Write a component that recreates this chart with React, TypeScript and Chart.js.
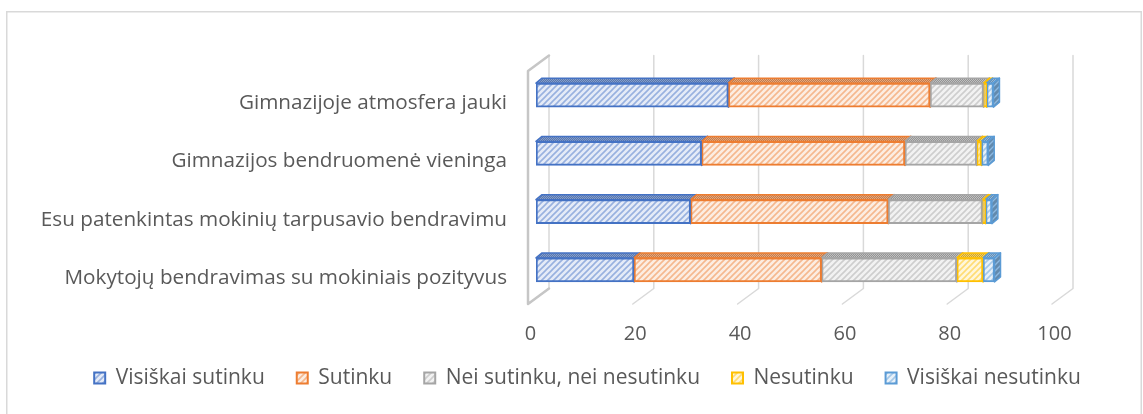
import React, { useEffect, useRef } from 'react';
import { Chart, registerables } from 'chart.js';

Chart.register(...registerables);

const categories = [
  'Gimnazijoje atmosfera jauki',
  'Gimnazijos bendruomenė vieninga',
  'Esu patenkintas mokinių tarpusavio bendravimu',
  'Mokytojų bendravimas su mokiniais pozityvus',
];
const seriesNames = [
  'Visiškai sutinku',
  'Sutinku',
  'Nei sutinku, nei nesutinku',
  'Nesutinku',
  'Visiškai nesutinku',
];
const visiskaiSutinku = [36.7, 31.6, 29.5, 18.7];
const sutinku = [38.5, 38.8, 37.7, 35.8];
const neiSutinkuNeiNesutinku = [10.2, 13.7, 18.0, 25.8];
const nesutinku = [0.6, 0.9, 0.6, 5.0];
const visiskaiNesutinku = [1.3, 1.3, 1.2, 2.2];
const xTicks = [0, 20, 40, 60, 80, 100];
const seriesColors = ['#4472C4', '#ED7D31', '#A5A5A5', '#FFC000', '#5B9BD5'];

const FONT = '"Open Sans", "DejaVu Sans", sans-serif';
const TEXT = '#595959';

function hexToRgb(h: string) {
  const n = parseInt(h.slice(1), 16);
  return [(n >> 16) & 255, (n >> 8) & 255, n & 255];
}
function mix(a: string, b: string, t: number) {
  const A = hexToRgb(a);
  const B = hexToRgb(b);
  const r = A.map((v, i) => Math.round(v + (B[i] - v) * t));
  return `rgb(${r[0]},${r[1]},${r[2]})`;
}

function hatch(ctx: CanvasRenderingContext2D, bg: string, fg: string, lw: number) {
  const s = 6;
  const cv = document.createElement('canvas');
  cv.width = s;
  cv.height = s;
  const g = cv.getContext('2d')!;
  g.fillStyle = bg;
  g.fillRect(0, 0, s, s);
  g.strokeStyle = fg;
  g.lineWidth = lw;
  g.beginPath();
  g.moveTo(-1, s + 1);
  g.lineTo(s + 1, -1);
  g.moveTo(-2, 2);
  g.lineTo(2, -2);
  g.moveTo(s - 2, s + 2);
  g.lineTo(s + 2, s - 2);
  g.stroke();
  return ctx.createPattern(cv, 'repeat')!;
}
function dots(ctx: CanvasRenderingContext2D, a: string, b: string) {
  const cv = document.createElement('canvas');
  cv.width = 2;
  cv.height = 2;
  const g = cv.getContext('2d')!;
  g.fillStyle = a;
  g.fillRect(0, 0, 2, 2);
  g.fillStyle = b;
  g.fillRect(0, 0, 1, 1);
  g.fillRect(1, 1, 1, 1);
  return ctx.createPattern(cv, 'repeat')!;
}

export default function App() {
  const ref = useRef<HTMLCanvasElement | null>(null);

  useEffect(() => {
    const canvas = ref.current!;
    const ctx = canvas.getContext('2d')!;
    const series = [visiskaiSutinku, sutinku, neiSutinkuNeiNesutinku, nesutinku, visiskaiNesutinku];
    const front = seriesColors.map((c) => hatch(ctx, mix(c, '#ffffff', 0.86), mix(c, '#ffffff', 0.45), 1.6));
    const topP = seriesColors.map((c) => dots(ctx, mix(c, '#808080', 0.5), mix(c, '#ffffff', 0.3)));
    const sideP = seriesColors.map((c) => hatch(ctx, mix(c, '#707070', 0.4), mix(c, '#ffffff', 0.3), 1.4));

    const DX = 6;
    const DY = -5;
    const BX = 13;
    const BY = -10.5;
    const FX = -8;
    const FY = 5;

    const depthPlugin = {
      id: 'depth3d',
      beforeDraw(chart: any) {
        const c = chart.ctx;
        c.save();
        c.fillStyle = '#ffffff';
        c.fillRect(0, 0, chart.width, chart.height);
        c.strokeStyle = '#d9d9d9';
        c.lineWidth = 1.5;
        c.strokeRect(6.75, 11.75, 1134.5, 440);
        c.restore();
      },
      beforeDatasetsDraw(chart: any) {
        const c = chart.ctx;
        const xs = chart.scales.x;
        const { top, bottom } = chart.chartArea;
        c.save();
        c.lineCap = 'round';
        c.lineJoin = 'round';
        c.strokeStyle = '#d9d9d9';
        c.lineWidth = 1.5;
        xTicks.forEach((v) => {
          const px = xs.getPixelForValue(v);
          c.beginPath();
          c.moveTo(px + BX, top + BY);
          c.lineTo(px + BX, bottom + BY);
          c.lineTo(px + FX, bottom + FY);
          c.stroke();
        });
        const p0 = xs.getPixelForValue(0);
        c.strokeStyle = '#c6c6c6';
        c.lineWidth = 2.5;
        c.beginPath();
        c.moveTo(p0 + BX, top + BY);
        c.lineTo(p0 + FX, top + FY);
        c.lineTo(p0 + FX, bottom + FY);
        c.lineTo(p0 + BX, bottom + BY);
        c.stroke();

        c.lineWidth = 1.5;
        chart.data.datasets.forEach((_ds: any, di: number) => {
          const meta = chart.getDatasetMeta(di);
          meta.data.forEach((el: any) => {
            const p = el.getProps(['x', 'base', 'y', 'height'], true);
            const l = Math.min(p.x, p.base);
            const r = Math.max(p.x, p.base);
            const t = p.y - p.height / 2;
            const b = p.y + p.height / 2;
            c.strokeStyle = seriesColors[di];
            c.fillStyle = topP[di];
            c.beginPath();
            c.moveTo(l, t);
            c.lineTo(l + DX, t + DY);
            c.lineTo(r + DX, t + DY);
            c.lineTo(r, t);
            c.closePath();
            c.fill();
            c.stroke();
            c.fillStyle = sideP[di];
            c.beginPath();
            c.moveTo(r, t);
            c.lineTo(r + DX, t + DY);
            c.lineTo(r + DX, b + DY);
            c.lineTo(r, b);
            c.closePath();
            c.fill();
            c.stroke();
          });
        });
        c.restore();
      },
    };

    const chart = new Chart(canvas, {
      type: 'bar',
      data: {
        labels: categories,
        datasets: series.map((d, i) => ({
          label: seriesNames[i],
          data: d,
          backgroundColor: front[i],
          borderColor: seriesColors[i],
          borderWidth: 2,
          borderSkipped: false,
          barThickness: 24,
        })),
      },
      options: {
        indexAxis: 'y',
        responsive: false,
        maintainAspectRatio: false,
        animation: false,
        layout: { padding: { left: 32, right: 0, top: 66, bottom: 15.5 } },
        scales: {
          x: {
            type: 'linear',
            stacked: true,
            min: 0,
            max: 100,
            grid: { display: false, drawTicks: false },
            border: { display: false },
            ticks: {
              stepSize: 20,
              labelOffset: -5.5,
              mirror: true,
              padding: -47,
              color: TEXT,
              font: { family: FONT, size: 20 },
            },
            afterFit: (s: any) => {
              s.height = 36.5;
            },
          },
          y: {
            type: 'category',
            stacked: true,
            grid: { display: false, drawTicks: false },
            border: { display: false },
            ticks: {
              padding: 29,
              labelOffset: 8,
              color: TEXT,
              font: { family: FONT, size: 20.7 },
            },
            afterFit: (s: any) => {
              s.width = 504;
            },
          },
          yR: {
            type: 'category',
            position: 'right',
            grid: { display: false, drawTicks: false },
            border: { display: false },
            ticks: { display: false },
            afterFit: (s: any) => {
              s.width = 83;
            },
          },
        },
        plugins: {
          legend: {
            position: 'bottom',
            labels: {
              boxWidth: 11,
              boxHeight: 11,
              padding: 32,
              color: TEXT,
              font: { family: FONT, size: 21 },
            },
          },
          tooltip: { enabled: false },
        },
      } as any,
      plugins: [depthPlugin],
    });
    return () => chart.destroy();
  }, []);

  return (
    <div style={{ position: 'fixed', left: 0, top: 0, width: 1143, height: 414, background: '#fff' }}>
      <canvas ref={ref} width={1143} height={414} style={{ display: 'block', width: 1143, height: 414 }} />
    </div>
  );
}
